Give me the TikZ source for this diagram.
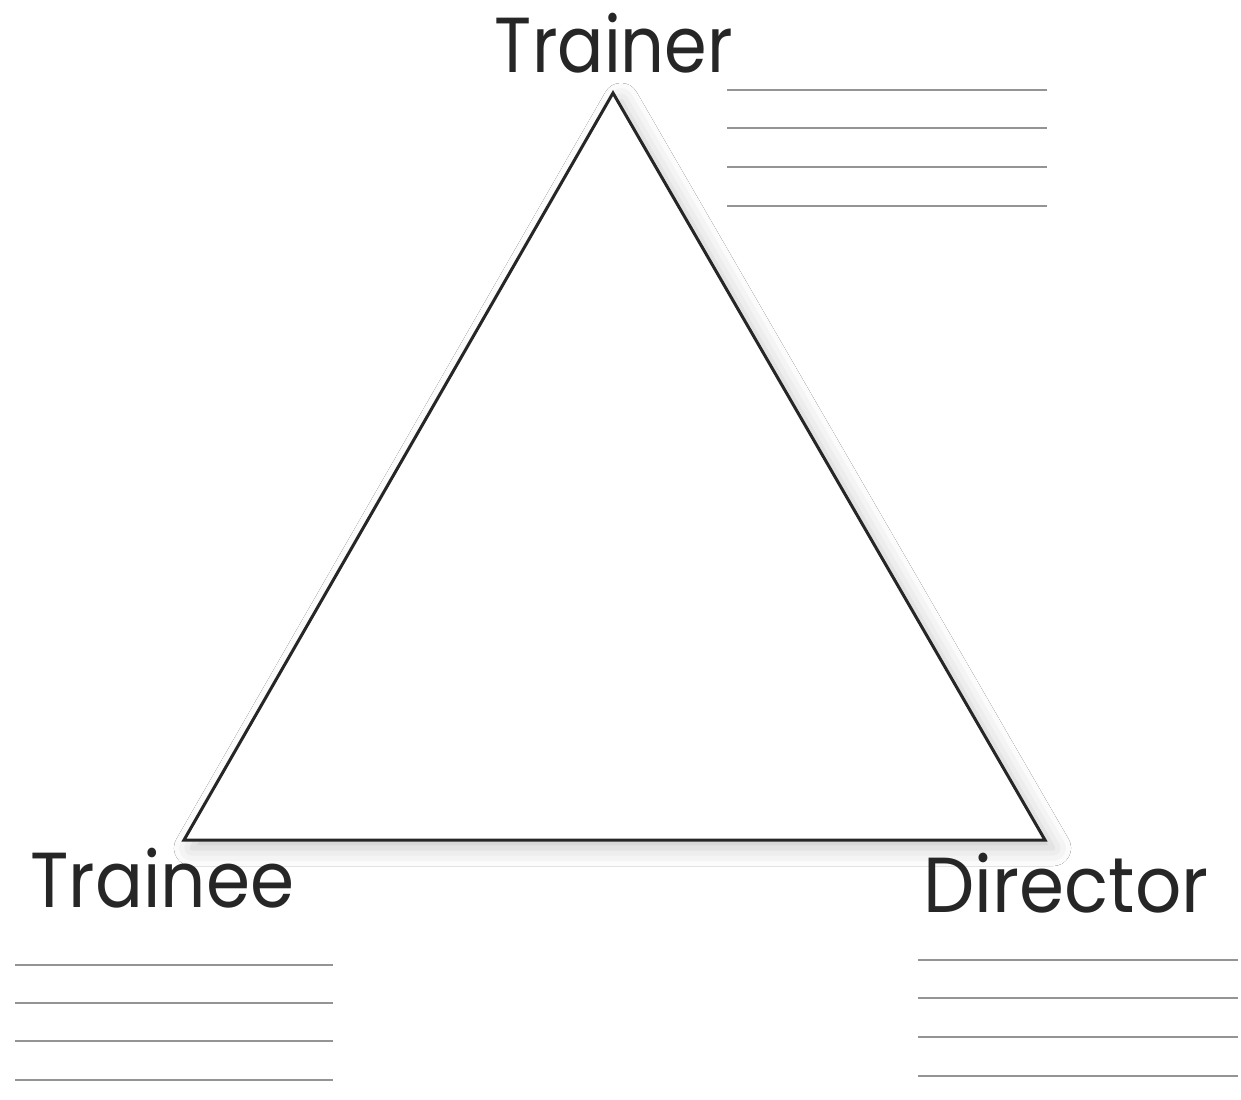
\documentclass[tikz,border=0pt]{standalone}
\usepackage{fontspec}
\setmainfont{Poppins}
\usepackage{graphicx}
\usetikzlibrary{shadows.blur}
\begin{document}
\begin{tikzpicture}[x=0.5pt,y=-0.5pt,
  label/.style={inner sep=0pt, font=\fontsize{39}{46}\selectfont, text=black!85},
  rule/.style={draw=black!42, line width=1.4pt},
  tri/.style={draw=black!85, line width=1.5pt, line join=miter, fill=white,
    blur shadow={shadow xshift=4pt, shadow yshift=-4pt, shadow blur radius=9pt, shadow opacity=22}}]
\useasboundingbox[fill=white] (0,0) rectangle (1241,1099);
\coordinate (A) at (613,93);
\coordinate (B) at (184,840);
\coordinate (C) at (1045,840);
\path[tri] (A) -- (B) -- (C) -- cycle;
\node[label, anchor=base] (trainer) at (614,72) {\scalebox{0.88}[1]{Trainer}};
\node[label, anchor=base west] (trainee) at (30,907) {\scalebox{0.91}[1]{Trainee}};
\node[label, anchor=base west] (director) at (923,912) {\scalebox{0.93}[1]{Director}};
\foreach \y [count=\i] in {90,128,167,206}{
  \coordinate (t\i a) at (727,\y); \coordinate (t\i b) at (1047,\y);
  \draw[rule] (t\i a) -- (t\i b);}
\foreach \y [count=\i] in {965,1003,1041,1080}{
  \coordinate (l\i a) at (15,\y); \coordinate (l\i b) at (333,\y);
  \draw[rule] (l\i a) -- (l\i b);}
\foreach \y [count=\i] in {960,998,1037,1076}{
  \coordinate (r\i a) at (918,\y); \coordinate (r\i b) at (1238,\y);
  \draw[rule] (r\i a) -- (r\i b);}
\end{tikzpicture}
\end{document}
